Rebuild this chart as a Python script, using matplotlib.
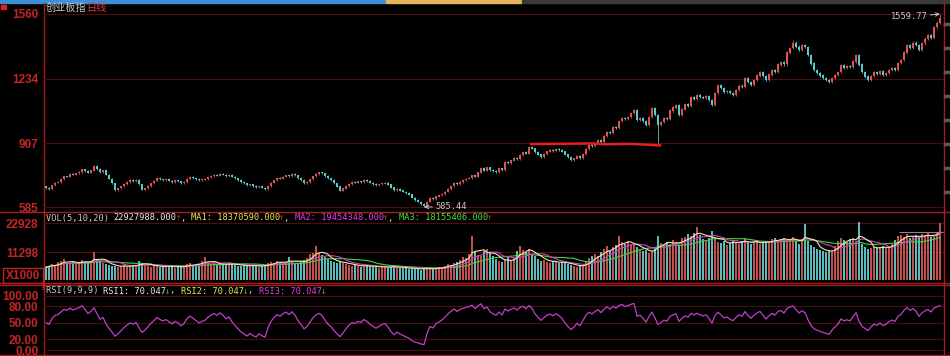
import numpy as np
import pandas as pd
import matplotlib
matplotlib.use('Agg')
import matplotlib.pyplot as plt
from matplotlib.patches import Rectangle

# 收盘价 (读自图中, 每根K线一个)
closes = [
    681, 676, 695, 708, 712, 725, 740, 738, 752, 748,
    755, 762, 775, 768, 760, 770, 792, 778, 762, 770,
    748, 728, 705, 671, 680, 690, 702, 712, 721, 716,
    722, 700, 672, 680, 692, 705, 718, 732, 725, 720,
    726, 718, 712, 720, 715, 706, 712, 728, 737, 732,
    726, 720, 724, 727, 735, 742, 747, 744, 752, 748,
    742, 747, 738, 730, 722, 712, 705, 696, 700, 692,
    685, 690, 682, 676, 692, 708, 720, 732, 728, 738,
    745, 740, 752, 745, 732, 721, 706, 712, 725, 740,
    752, 760, 755, 742, 730, 721, 705, 688, 668, 678,
    690, 702, 711, 708, 715, 712, 721, 716, 708, 702,
    696, 700, 704, 706, 698, 684, 671, 676, 668, 662,
    656, 648, 632, 620, 612, 600, 590, 612, 631, 625,
    638, 644, 651, 662, 676, 690, 706, 700, 712, 720,
    728, 732, 745, 738, 760, 782, 770, 784, 772, 766,
    762, 780, 772, 812, 806, 820, 832, 826, 848, 862,
    855, 888, 880, 862, 850, 838, 852, 866, 873, 868,
    878, 873, 865, 850, 836, 822, 830, 842, 833, 852,
    878, 898, 892, 910, 924, 915, 942, 965, 958, 990,
    984, 1018, 1035, 1028, 1040, 1060, 1075, 1025, 1035, 1020,
    999, 1040, 1085, 1050, 999, 1015, 1035, 1028, 1072, 1088,
    1100, 1050, 1078, 1105, 1096, 1141, 1130, 1150, 1141, 1135,
    1145, 1126, 1100, 1160, 1201, 1185, 1166, 1172, 1160, 1151,
    1175, 1198, 1190, 1237, 1215, 1201, 1228, 1250, 1267, 1248,
    1227, 1255, 1278, 1270, 1305, 1318, 1306, 1365, 1388, 1414,
    1395, 1378, 1402, 1393, 1353, 1310, 1277, 1262, 1250, 1237,
    1228, 1217, 1236, 1252, 1267, 1302, 1290, 1298, 1292, 1320,
    1353, 1305, 1267, 1245, 1227, 1248, 1267, 1258, 1272, 1255,
    1262, 1278, 1287, 1280, 1312, 1328, 1365, 1403, 1390, 1415,
    1403, 1378, 1412, 1435, 1454, 1442, 1494, 1515, 1540,
]
first_open = 690

# 成交量 (单位: 千)
volumes = [
    5200, 5800, 6400, 6000, 7200, 7800, 8400, 7000, 6800, 7400,
    6600, 7000, 8200, 7400, 6800, 7600, 11200, 8600, 7800, 7000,
    6400, 6000, 5600, 5800, 5200, 5600, 6000, 5400, 5800, 6200,
    5600, 7600, 6800, 6200, 5800, 5400, 5600, 6000, 5400, 5200,
    5600, 5800, 5400, 5000, 5600, 5200, 5800, 6400, 6800, 6000,
    6200, 6600, 7600, 9200, 7200, 6600, 6800, 6400, 6000, 6600,
    6200, 7000, 6400, 6000, 5800, 5600, 6200, 5800, 5600, 6000,
    5800, 5400, 5600, 6200, 6800, 7400, 7000, 7600, 7200, 6800,
    7400, 9200, 7600, 7000, 6800, 7600, 8200, 9000, 10400, 11000,
    13600, 10800, 10000, 9200, 8400, 7600, 7200, 7000, 7600, 6800,
    6400, 6000, 5800, 6200, 5600, 5400, 5800, 6000, 5600, 5200,
    5400, 5000, 5600, 5200, 5000, 5400, 5800, 5200, 4800, 5000,
    4800, 4600, 5000, 4400, 4600, 4200, 4800, 5000, 4600, 4400,
    4800, 5400, 5200, 5800, 6400, 6000, 6800, 7400, 8200, 9200,
    8800, 10400, 17600, 11800, 10200, 9800, 11600, 12400, 10800, 9600,
    8400, 7600, 7200, 8000, 9200, 7600, 8800, 11600, 13600, 12000,
    11200, 12400, 10600, 9600, 8400, 7600, 8200, 7400, 7000, 7800,
    7200, 6800, 7400, 6800, 6400, 6000, 5800, 5400, 5600, 6200,
    7400, 8800, 9600, 10400, 9800, 11200, 12400, 13600, 12000, 13200,
    14000, 17600, 15200, 14400, 15600, 14000, 14400, 13200, 12000, 11600,
    12000, 11000, 11600, 13400, 17600, 14800, 14000, 15200, 14400, 16000,
    15200, 14000, 16800, 17400, 18400, 17600, 18800, 21200, 18000, 16400,
    15600, 17000, 19600, 16400, 15200, 14800, 15600, 14000, 15000, 16200,
    15200, 14400, 15600, 16800, 15000, 14400, 15200, 16000, 14600, 15400,
    15000, 15600, 16400, 17000, 15800, 16600, 17000, 15600, 16200, 17400,
    15800, 14400, 16000, 22400, 15600, 14000, 13200, 12400, 12000, 11600,
    11200, 12000, 11600, 13600, 15600, 17000, 16200, 15400, 16600, 17000,
    15800, 23200, 14400, 13200, 12600, 13000, 13400, 12800, 13200, 13600,
    12800, 13400, 14600, 16000, 17600, 18000, 17200, 18400, 16800, 17600,
    18000, 17200, 18400, 17600, 18800, 17400, 18000, 19200, 22928,
]

# 特殊影线端点 (K线序号, 价格)
extreme_highs = {249: 1430, 298: 1559.77}
extreme_lows = {126: 585.44, 204: 907}

# 手绘红线
trend_x = [161.7, 182.3, 186.3, 194.7, 204.7]
trend_y = [903, 906, 902, 904, 896]

price_ticks = [585, 907, 1234, 1560]
vol_ticks = [11298, 22928]
rsi_ticks = [0, 20, 50, 80, 100]
vol_box_x = [284.3, 299]
vol_box_level = 19330

W, H = 950, 356
RED_TXT = '#c42424'
GRID = '#4e0e0e'
AXIS = '#a81c1c'
UP = '#e05252'
DOWN = '#54cccc'
CJK = ['Noto Sans CJK SC', 'DejaVu Sans']


def rect(x0, y0, x1, y1):
    return [x0 / W, 1 - y1 / H, (x1 - x0) / W, (y1 - y0) / H]


def sma_cn(x, n, m, seed):
    out = [seed]
    for v in x[1:]:
        out.append((m * v + (n - m) * out[-1]) / n)
    return np.array(out)


def style_panel(ax, ticks, labels):
    ax.set_facecolor('none')
    for s in ax.spines.values():
        s.set_visible(False)
    ax.set_xticks([])
    ax.set_yticks(ticks)
    ax.set_yticklabels(labels)
    ax.tick_params(axis='y', length=0, pad=4, labelcolor=RED_TXT, labelsize=8.5)
    for t in ax.get_yticklabels():
        t.set_fontweight('bold')
        t.set_fontfamily('Liberation Sans')
    ax.yaxis.grid(True, color=GRID, lw=0.8)
    ax.set_axisbelow(True)
    ax.set_xlim(-0.667, 299.333)


def put_segments(ax, x, y, segs, size=6.2):
    cw = 0.602 * size * 100 / 72
    for text, color in segs:
        ax.text(x, y, text, color=color, fontsize=size, family='DejaVu Sans Mono',
                va='center', ha='left')
        x += len(text) * cw


close = np.array(closes, dtype=float)
opens = np.concatenate([[first_open], close[:-1]])
idx = np.arange(len(close))
up = close >= opens
pad = 0.005
highs = np.maximum(opens, close) * (1 + pad)
lows = np.minimum(opens, close) * (1 - pad)
for k, v in extreme_highs.items():
    highs[k] = v
for k, v in extreme_lows.items():
    lows[k] = v

vol = pd.Series(volumes, dtype=float)
ma5 = vol.rolling(5, min_periods=1).mean()
ma10 = vol.rolling(10, min_periods=1).mean()
ma20 = vol.rolling(20, min_periods=1).mean()

diff = np.diff(close, prepend=close[0])
seed = np.abs(diff[1:10]).mean()
rs_up = sma_cn(np.maximum(diff, 0), 9, 1, seed * 0.5)
rs_all = sma_cn(np.abs(diff), 9, 1, seed)
rsi = rs_up / rs_all * 100

fig = plt.figure(figsize=(9.5, 3.56), dpi=100, facecolor='black')

bg = fig.add_axes([0, 0, 1, 1])
bg.set_xlim(0, W)
bg.set_ylim(H, 0)
bg.axis('off')

# 顶部色条
bg.add_patch(Rectangle((0, 0), 386, 3, color='#3d8fd6'))
bg.add_patch(Rectangle((386, 0), 136, 3, color='#e9b25c'))
bg.add_patch(Rectangle((522, 0), 428, 3, color='#3a3a3a'))
bg.add_patch(Rectangle((1, 5), 5, 4, color='#e02020'))

# 分隔线
for yy in [211.5, 282.5, 284.5, 354.5]:
    bg.plot([0, W], [yy, yy], color=AXIS, lw=1)
bg.plot([44, 44], [3, H], color=AXIS, lw=1)
bg.plot([944, 944], [3, H], color=AXIS, lw=1)
for yy in [24, 48, 72, 96, 120, 144, 168, 192]:
    bg.plot([945, 950], [yy, yy], color='#5a5a5a', lw=2.5)

bg.text(46, 8, '创业板指', color='#c8c8c8', fontsize=7.3, family=CJK, va='center')
bg.text(86.5, 8, '日线', color='#e03a3a', fontsize=7.3, family=CJK, va='center')

bg.add_patch(Rectangle((3, 268), 40, 15, fill=False, edgecolor=RED_TXT, lw=1))
bg.text(23, 276, 'X1000', color=RED_TXT, fontsize=8.5, fontweight='bold',
        family='Liberation Sans', ha='center', va='center')
bg.text(40.5, 287.5, '?', color='#e02020', fontsize=6, fontweight='bold', ha='left', va='center')

put_segments(bg, 46, 218, [
    ('VOL(5,10,20) ', '#c8c8c8'), ('22927988.000', '#e8e8e8'), ('↑', '#e03030'),
    (', ', '#c8c8c8'), ('MA1: 18370590.000', '#e6e65a'), ('↑', '#e03030'),
    (', ', '#c8c8c8'), ('MA2: 19454348.000', '#e040e0'), ('↑', '#e03030'),
    (', ', '#c8c8c8'), ('MA3: 18155406.000', '#40e040'), ('↑', '#e03030'),
])
put_segments(bg, 46, 291, [
    ('RSI(9,9,9) ', '#c8c8c8'), ('RSI1: 70.047', '#e8e8e8'), ('↓', '#30d030'),
    (', ', '#c8c8c8'), ('RSI2: 70.047', '#e6e65a'), ('↓', '#30d030'),
    (', ', '#c8c8c8'), ('RSI3: 70.047', '#e040e0'), ('↓', '#30d030'),
])

# K线
ax_p = fig.add_axes(rect(44, 4, 944, 211))
style_panel(ax_p, price_ticks, [str(t) for t in price_ticks])
ax_p.set_ylim(564.8, 1610.5)
colors = np.where(up, UP, DOWN)
ax_p.vlines(idx, lows, highs, colors=colors, lw=0.6)
ax_p.bar(idx, np.abs(close - opens) + 1.5, bottom=np.minimum(opens, close) - 0.75,
         width=0.65, color=colors, linewidth=0)
ax_p.plot(trend_x, trend_y, color='#e81e1e', lw=1.8)
ax_p.annotate('1559.77', xy=(298, 1559.77), xytext=(-9, -2), textcoords='offset points',
              ha='right', va='center', color='#c8c8c8', fontsize=6.3, family='DejaVu Sans Mono',
              arrowprops=dict(arrowstyle='->', color='#c8c8c8', lw=0.7, shrinkA=0, shrinkB=0))
ax_p.annotate('585.44', xy=(126, 585.44), xytext=(8, 0), textcoords='offset points',
              ha='left', va='center', color='#c8c8c8', fontsize=6.3, family='DejaVu Sans Mono',
              arrowprops=dict(arrowstyle='->', color='#c8c8c8', lw=0.7, shrinkA=0, shrinkB=0))

# 成交量
ax_v = fig.add_axes(rect(44, 212, 944, 282))
style_panel(ax_v, vol_ticks, [str(t) for t in vol_ticks])
ax_v.set_ylim(-722, 27348)
ax_v.bar(idx, vol, width=0.65, color=np.where(up, '#c25050', '#5cbcbc'), linewidth=0)
ax_v.plot(idx, ma20, color='#3cd83c', lw=0.8)
ax_v.plot(idx, ma10, color='#d040d0', lw=0.8)
ax_v.plot(idx, ma5, color='#f0e8a8', lw=0.8)
ax_v.hlines(vol_box_level, vol_box_x[0], vol_box_x[1], color='#8a8a8a', lw=0.8)

# RSI
ax_r = fig.add_axes(rect(44, 285, 944, 354))
style_panel(ax_r, rsi_ticks, ['%.2f' % t for t in rsi_ticks])
ax_r.set_ylim(-7.3, 119.3)
ax_r.plot(idx, rsi, color='#c040c8', lw=0.9)

fig.savefig('out.png', dpi=100, facecolor='black')
